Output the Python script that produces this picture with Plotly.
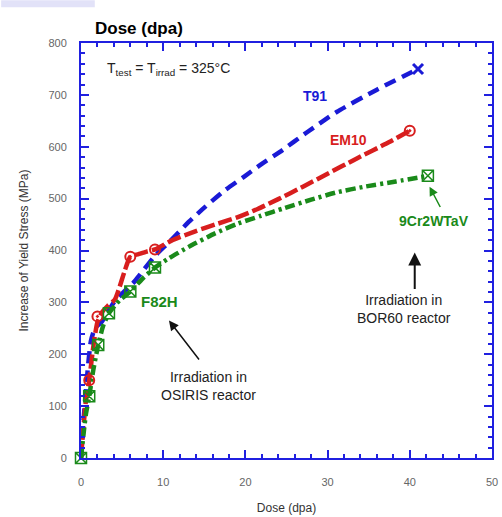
import plotly.graph_objects as go

# T91 (blue)
t91_x = [0, 0.3, 0.7, 1.2, 1.7, 2.5, 4.0, 5.5, 6.5, 7.1, 8.9, 10.9, 13.1, 15.1, 17.5, 19.9, 22.0, 24.2, 27.5, 31.1, 36.0, 41.0]
t91_y = [0, 70, 150, 225, 250, 262, 300, 325, 340, 352, 388, 419, 455, 484, 516, 543, 567, 590, 628, 667, 710, 750]
t91_mx = [41.0]
t91_my = [750]

# EM10 (red)
em10_x = [0, 0.3, 0.6, 1.0, 1.5, 2.0, 2.6, 3.3, 4.1, 4.7, 5.3, 6.0, 7.0, 8.0, 9.0, 11.0, 13.9, 16.7, 19.0, 21.5, 24.0, 27.0, 30.0, 33.5, 37.5, 40.0]
em10_y = [0, 60, 110, 150, 215, 262, 282, 294, 305, 330, 360, 388, 393, 398, 402, 419, 437, 452, 464, 480, 499, 523, 548, 577, 609, 631]
em10_mx = [1.0, 2.0, 6.0, 9.0, 40.0]
em10_my = [150, 273, 388, 402, 631]

# F82H / 9Cr2WTaV (green)
gr_x = [0, 0.3, 0.6, 1.0, 1.5, 2.1, 2.7, 3.4, 4.7, 6.0, 7.5, 9.0, 10.7, 13.1, 16.3, 19.1, 21.9, 24.8, 28.0, 31.1, 34.5, 38.3, 42.2]
gr_y = [0, 45, 85, 119, 170, 218, 255, 279, 304, 321, 346, 367, 385, 407, 433, 452, 467, 482, 498, 512, 523, 533, 544]
gr_mx = [0, 1.0, 2.1, 3.4, 6.0, 9.0, 42.2]
gr_my = [0, 119, 218, 279, 321, 367, 544]

x_ticks = [0, 10, 20, 30, 40, 50]
y_ticks = [0, 100, 200, 300, 400, 500, 600, 700, 800]

BLUE = "#1a1ad6"
RED = "#d81e1e"
GREEN = "#1a8a1a"
AXBLUE = "#2020e0"
FONT = "Liberation Sans, Arial, sans-serif"

fig = go.Figure()
fig.add_trace(go.Scatter(x=t91_x, y=t91_y, mode="lines", line_shape="spline",
                         line=dict(color=BLUE, width=4.5, dash="12px,7px", smoothing=0.6), cliponaxis=False))
fig.add_trace(go.Scatter(x=em10_x, y=em10_y, mode="lines", line_shape="spline",
                         line=dict(color=RED, width=4.5, dash="14px,4px", smoothing=0.6), cliponaxis=False))
fig.add_trace(go.Scatter(x=gr_x, y=gr_y, mode="lines", line_shape="spline",
                         line=dict(color=GREEN, width=4.5, dash="10px,4px,3px,4px", smoothing=0.6), cliponaxis=False))
fig.add_trace(go.Scatter(x=t91_mx, y=t91_my, mode="markers",
                         marker=dict(symbol="x-thin-open", size=10, color=BLUE, line=dict(color=BLUE, width=3)),
                         cliponaxis=False))
fig.add_trace(go.Scatter(x=em10_mx, y=em10_my, mode="markers",
                         marker=dict(symbol="circle-open-dot", size=10, color=RED, line=dict(color=RED, width=2)),
                         cliponaxis=False))
fig.add_trace(go.Scatter(x=gr_mx, y=gr_my, mode="markers",
                         marker=dict(symbol="square-x-open", size=11, color=GREEN, line=dict(color=GREEN, width=1.5)),
                         cliponaxis=False))

txt = dict(family=FONT, size=14, color="#222222")
lbl = lambda c, s=14: dict(family=FONT, size=s, color=c)

W, H = 502, 517
ml, mr, mt, mb = 81, 4, 43, 57
pw, ph = W - ml - mr, H - mt - mb

ann = [
    dict(x=10.7, y=750, text="T<sub>test</sub> = T<sub>irrad</sub> = 325°C", showarrow=False, font=txt),
    dict(x=28.5, y=698, text="<b>T91</b>", showarrow=False, font=lbl(BLUE)),
    dict(x=32.6, y=613, text="<b>EM10</b>", showarrow=False, font=lbl(RED)),
    dict(x=42.9, y=456, text="<b>9Cr2WTaV</b>", showarrow=False, font=lbl(GREEN, 14)),
    dict(x=9.6, y=302, text="<b>F82H</b>", showarrow=False, font=lbl(GREEN, 15)),
    dict(x=15.5, y=139, text="Irradiation in<br>OSIRIS reactor", showarrow=False, font=txt),
    dict(x=39.3, y=287, text="Irradiation in<br>BOR60 reactor", showarrow=False, font=txt),
    dict(x=10.7, y=265, ax=14.5, ay=187, xref="x", yref="y", axref="x", ayref="y", text="",
         showarrow=True, arrowhead=2, arrowsize=1.3, arrowwidth=1.5, arrowcolor="#111111"),
    dict(x=40.6, y=396, ax=40.6, ay=323, xref="x", yref="y", axref="x", ayref="y", text="",
         showarrow=True, arrowhead=2, arrowsize=1.3, arrowwidth=2, arrowcolor="#111111"),
    dict(x=42.4, y=523, ax=43.8, ay=481, xref="x", yref="y", axref="x", ayref="y", text="",
         showarrow=True, arrowhead=2, arrowsize=1.2, arrowwidth=1.5, arrowcolor=GREEN),
    dict(x=(93 - ml) / pw, y=(H - mb - 17) / ph, xref="paper", yref="paper", xanchor="left",
         text="<b>Dose (dpa)</b>", showarrow=False,
         font=dict(family=FONT, size=17, color="#000000")),
]

fig.update_layout(
    width=W, height=H, margin=dict(l=ml, r=mr, t=mt, b=mb),
    paper_bgcolor="white", plot_bgcolor="white", showlegend=False,
    annotations=ann,
    shapes=[dict(type="rect", xref="paper", yref="paper",
                 x0=(0 - ml) / pw, x1=(95 - ml) / pw,
                 y0=(H - mb - 7) / ph, y1=(H - mb) / ph,
                 line=dict(width=0), fillcolor="#e2e2f8", layer="below")],
    xaxis=dict(range=[0, 50], tickvals=x_ticks, ticks="inside", ticklen=8, tickwidth=2,
               tickcolor=AXBLUE, showline=True, linecolor=AXBLUE, linewidth=2, mirror="ticks",
               showgrid=False, zeroline=False, ticklabeloverflow="allow", ticklabelstandoff=13,
               minor=dict(dtick=2, ticks="inside", ticklen=4, tickwidth=1.5, tickcolor=AXBLUE),
               tickfont=dict(family=FONT, size=11, color="#666666"),
               title=dict(text="Dose (dpa)", standoff=16,
                          font=dict(family=FONT, size=12, color="#333333"))),
    yaxis=dict(range=[0, 800], tickvals=y_ticks, ticks="inside", ticklen=8, tickwidth=2,
               tickcolor=AXBLUE, showline=True, linecolor=AXBLUE, linewidth=2, mirror="ticks",
               showgrid=False, zeroline=False, ticklabelstandoff=10,
               minor=dict(dtick=20, ticks="inside", ticklen=4, tickwidth=1.5, tickcolor=AXBLUE),
               tickfont=dict(family=FONT, size=11, color="#666666"),
               title=dict(text="Increase of Yield Stress (MPa)", standoff=17,
                          font=dict(family=FONT, size=12, color="#333333"))),
)
fig.write_html("out.html")
